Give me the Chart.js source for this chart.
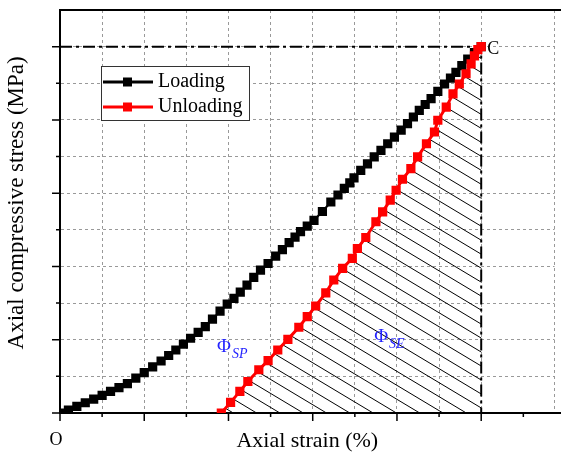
<!DOCTYPE html>
<html>
<head>
<meta charset="utf-8">
<script src="https://cdn.jsdelivr.net/npm/chart.js@4"></script>
<style>
  html, body { margin: 0; padding: 0; background: #fff; }
</style>
</head>
<body>
<canvas id="chart" width="561" height="457"></canvas>
<script>
// valores (deformacion axial / esfuerzo, unidades arbitrarias)
const loadingX = [0, 0.2, 0.4, 0.6, 0.8, 1.0, 1.2, 1.4, 1.6, 1.8, 2.0, 2.2, 2.4, 2.58, 2.75, 2.93, 3.1, 3.28, 3.45, 3.62,
  3.8, 3.97, 4.13, 4.28, 4.44, 4.6, 4.76, 4.94, 5.12, 5.28, 5.44, 5.58, 5.71, 5.87, 6.03, 6.23, 6.43, 6.6, 6.75, 6.88,
  6.98, 7.14, 7.3, 7.46, 7.62, 7.78, 7.94, 8.1, 8.25, 8.39, 8.53, 8.67, 8.81, 8.97, 9.13, 9.27, 9.4, 9.54, 9.68, 9.84, 10];
const loadingY = [0, 0.08, 0.18, 0.28, 0.38, 0.48, 0.59, 0.69, 0.8, 0.95, 1.1, 1.26, 1.42, 1.57, 1.72, 1.88, 2.04, 2.2, 2.36, 2.56,
  2.78, 2.97, 3.13, 3.3, 3.49, 3.7, 3.9, 4.08, 4.28, 4.46, 4.65, 4.8, 4.95, 5.1, 5.26, 5.5, 5.76, 5.95, 6.13, 6.28,
  6.42, 6.62, 6.8, 6.99, 7.17, 7.35, 7.53, 7.72, 7.9, 8.08, 8.26, 8.42, 8.58, 8.78, 8.98, 9.14, 9.3, 9.48, 9.66, 9.84, 10];

const unloadingX = [3.83, 4.05, 4.27, 4.46, 4.72, 4.94, 5.17, 5.41, 5.67, 5.87, 6.07, 6.31, 6.5, 6.71, 6.94, 7.06, 7.26,
  7.5, 7.66, 7.84, 7.98, 8.13, 8.33, 8.49, 8.7, 8.89, 8.97, 9.17, 9.33, 9.48, 9.64, 9.76, 9.84, 9.92, 10];
const unloadingY = [0, 0.29, 0.59, 0.86, 1.18, 1.43, 1.72, 2.01, 2.34, 2.63, 2.92, 3.28, 3.63, 3.95, 4.22, 4.49, 4.79,
  5.22, 5.49, 5.81, 6.08, 6.38, 6.67, 6.99, 7.35, 7.67, 7.99, 8.35, 8.71, 8.98, 9.26, 9.53, 9.75, 9.92, 10];

// punto C y lineas de referencia
const peakX = 10;
const peakY = 10;
const refX = [0, peakX, peakX];
const refY = [peakY, peakY, 0];

const seriesNames = ["Loading", "Unloading"];
const seriesColors = ["#000000", "#ff0000"];
const areaLabels = [
  { main: "Φ", sub: "SP", x: 3.73, y: 1.67 },
  { main: "Φ", sub: "SE", x: 7.46, y: 1.93 },
];

const SERIF = '"Liberation Serif", "Times New Roman", serif';

const toPoints = (xs, ys) => xs.map((v, i) => ({ x: v, y: ys[i] }));

// rayado entre la curva de descarga y la vertical en C
const hatchPlugin = {
  id: "hatch",
  beforeDatasetsDraw(chart) {
    const { ctx, chartArea, scales: { x, y } } = chart;
    ctx.save();
    ctx.beginPath();
    unloadingX.forEach((v, i) => {
      const px = x.getPixelForValue(v);
      const py = y.getPixelForValue(unloadingY[i]);
      if (i === 0) ctx.moveTo(px, py);
      else ctx.lineTo(px, py);
    });
    ctx.lineTo(x.getPixelForValue(peakX), y.getPixelForValue(0));
    ctx.closePath();
    ctx.clip();

    const y0 = y.getPixelForValue(0);
    const slope = 0.6;
    const gap = 23.3;
    ctx.strokeStyle = "#000";
    ctx.lineWidth = 1;
    ctx.beginPath();
    for (let bx = x.getPixelForValue(unloadingX[0]) + 12; bx < chartArea.right + 800; bx += gap) {
      ctx.moveTo(bx, y0);
      ctx.lineTo(bx - 800, y0 - 800 * slope);
    }
    ctx.stroke();
    ctx.restore();
  },
};

// ticks, borde superior, leyenda y etiquetas
const decorPlugin = {
  id: "decor",
  afterDraw(chart) {
    const { ctx, chartArea, scales: { x, y } } = chart;
    ctx.save();

    // borde superior e inferior hasta el borde de la figura
    ctx.strokeStyle = "#000";
    ctx.lineWidth = 2;
    ctx.beginPath();
    ctx.moveTo(chartArea.left, chartArea.top);
    ctx.lineTo(chart.width, chartArea.top);
    ctx.moveTo(chartArea.right - 2, chartArea.bottom);
    ctx.lineTo(chart.width, chartArea.bottom);
    ctx.stroke();

    // ticks mayores y menores hacia afuera
    ctx.lineWidth = 1.5;
    ctx.beginPath();
    for (let v = 0; v <= 11; v++) {
      const len = v % 2 === 0 ? 8 : 4;
      const px = x.getPixelForValue(v);
      ctx.moveTo(px, chartArea.bottom);
      ctx.lineTo(px, chartArea.bottom + len);
    }
    for (let v = 0; v <= 10; v++) {
      const len = v % 2 === 0 ? 8 : 4;
      const py = y.getPixelForValue(v);
      ctx.moveTo(chartArea.left, py);
      ctx.lineTo(chartArea.left - len, py);
    }
    ctx.stroke();

    // leyenda
    const lx = chartArea.left + 41;
    const ly = chartArea.top + 56;
    ctx.fillStyle = "#fff";
    ctx.fillRect(lx, ly, 148, 54);
    ctx.strokeStyle = "#333";
    ctx.lineWidth = 1;
    ctx.strokeRect(lx + 0.5, ly + 0.5, 148, 54);
    seriesNames.forEach((name, i) => {
      const cy = ly + 16 + i * 25;
      ctx.strokeStyle = seriesColors[i];
      ctx.lineWidth = 3;
      ctx.beginPath();
      ctx.moveTo(lx + 2, cy);
      ctx.lineTo(lx + 52, cy);
      ctx.stroke();
      ctx.fillStyle = seriesColors[i];
      ctx.fillRect(lx + 22, cy - 4.5, 9, 9);
      ctx.fillStyle = "#000";
      ctx.font = "20px " + SERIF;
      ctx.textBaseline = "middle";
      ctx.textAlign = "left";
      ctx.fillText(name, lx + 57, cy);
    });

    // etiqueta C
    ctx.fillStyle = "#000";
    ctx.font = "18px " + SERIF;
    ctx.textBaseline = "alphabetic";
    ctx.fillText("C", x.getPixelForValue(peakX) + 6, y.getPixelForValue(peakY) + 7);

    // etiquetas de areas
    ctx.fillStyle = "#2323ff";
    areaLabels.forEach((l) => {
      const px = x.getPixelForValue(l.x);
      const py = y.getPixelForValue(l.y);
      ctx.font = "19px " + SERIF;
      ctx.fillText(l.main, px, py);
      const w = ctx.measureText(l.main).width;
      ctx.font = "italic 14px " + SERIF;
      ctx.fillText(l.sub, px + w + 1, py + 6);
    });
    ctx.restore();
  },
};

new Chart(document.getElementById("chart"), {
  type: "scatter",
  data: {
    datasets: [
      {
        label: seriesNames[1],
        data: toPoints(unloadingX, unloadingY),
        showLine: true,
        borderColor: seriesColors[1],
        borderWidth: 3,
        pointStyle: "rect",
        pointRadius: 6.5,
        pointBackgroundColor: seriesColors[1],
        pointBorderWidth: 0,
        order: 0,
      },
      {
        label: seriesNames[0],
        data: toPoints(loadingX, loadingY),
        showLine: true,
        borderColor: seriesColors[0],
        borderWidth: 2,
        pointStyle: "rect",
        pointRadius: 6.5,
        pointBackgroundColor: seriesColors[0],
        pointBorderWidth: 0,
        order: 1,
      },
      {
        label: "ref",
        data: toPoints(refX, refY),
        showLine: true,
        borderColor: "#000",
        borderWidth: 2,
        borderDash: [12, 4, 3, 4],
        pointRadius: 0,
        order: 2,
      },
    ],
  },
  options: {
    responsive: false,
    animation: false,
    layout: { padding: { top: 10, right: 0, left: 0, bottom: 0 } },
    plugins: {
      legend: { display: false },
      tooltip: { enabled: false },
    },
    scales: {
      x: {
        type: "linear",
        min: 0,
        max: 11.74,
        afterFit(s) { s.height = 44; s.paddingLeft = 0; s.paddingRight = 0; },
        grid: { color: "#999", lineWidth: 1, drawTicks: false },
        border: { color: "#000", width: 2, dash: [3, 3] },
        ticks: {
          stepSize: 1,
          autoSkip: false,
          padding: 16,
          labelOffset: -4,
          color: "#000",
          font: { family: SERIF, size: 18 },
          callback: (v) => (v === 0 ? "O" : ""),
        },
        title: {
          display: true,
          text: "Axial strain (%)",
          color: "#000",
          font: { family: SERIF, size: 22 },
          padding: { top: 0, bottom: 3 },
        },
      },
      y: {
        type: "linear",
        min: 0,
        max: 11,
        afterFit(s) { s.width = 60; s.paddingTop = 0; s.paddingBottom = 0; },
        grid: { color: "#999", lineWidth: 1, drawTicks: false },
        border: { color: "#000", width: 2, dash: [3, 3] },
        ticks: { stepSize: 1, display: false },
        title: {
          display: true,
          text: "   Axial compressive stress (MPa)",
          color: "#000",
          font: { family: SERIF, size: 23 },
          padding: { top: 3, bottom: 0 },
        },
      },
    },
  },
  plugins: [hatchPlugin, decorPlugin],
});
</script>
</body>
</html>
